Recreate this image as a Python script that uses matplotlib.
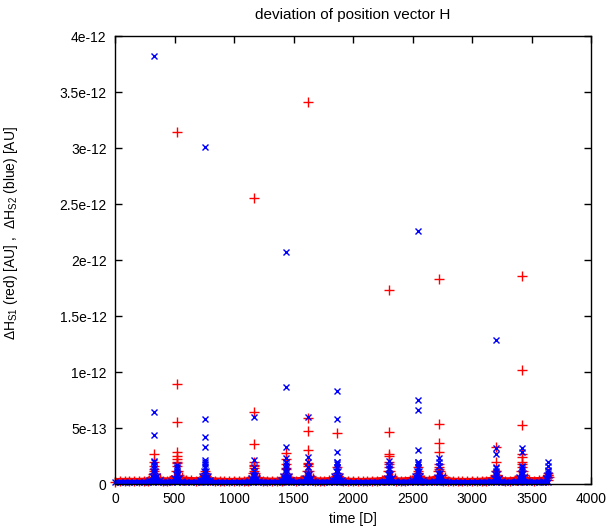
#!/usr/bin/env python
""" deviation of position vector H: gnuplot-style scatter of dH_S1 / dH_S2 """

import numpy as np                  # Maths library
import matplotlib
matplotlib.use('Agg')
import matplotlib.pyplot as plt     # Plotting library

## Data (values in units of 1e-12 AU)
scale = 1e-12

# baseline samples, one every 40 days
base_t = np.arange(0, 3660, 40)
red_base = [0.022, 0.024, 0.024, 0.025, 0.024, 0.024, 0.026, 0.028, 0.034, 0.038,
            0.030, 0.028, 0.034, 0.042, 0.038, 0.034, 0.032, 0.030, 0.034, 0.038,
            0.032, 0.028, 0.026, 0.024, 0.024, 0.024, 0.025, 0.026, 0.029, 0.038,
            0.034, 0.030, 0.028, 0.026, 0.026, 0.029, 0.038, 0.034, 0.030, 0.032,
            0.042, 0.036, 0.030, 0.028, 0.028, 0.032, 0.038, 0.034, 0.029, 0.026,
            0.024, 0.024, 0.024, 0.025, 0.026, 0.028, 0.032, 0.038, 0.034, 0.030,
            0.028, 0.030, 0.034, 0.039, 0.034, 0.032, 0.034, 0.040, 0.036, 0.030,
            0.028, 0.026, 0.024, 0.024, 0.024, 0.024, 0.024, 0.026, 0.028, 0.034,
            0.039, 0.032, 0.029, 0.030, 0.034, 0.040, 0.036, 0.032, 0.030, 0.032,
            0.034, 0.038]
blue_base = [0.014, 0.014, 0.015, 0.014, 0.014, 0.015, 0.016, 0.017, 0.020, 0.018,
             0.016, 0.016, 0.018, 0.020, 0.018, 0.016, 0.016, 0.017, 0.020, 0.019,
             0.017, 0.016, 0.015, 0.014, 0.014, 0.014, 0.015, 0.016, 0.017, 0.020,
             0.018, 0.016, 0.016, 0.016, 0.017, 0.018, 0.020, 0.018, 0.017, 0.018,
             0.020, 0.018, 0.016, 0.016, 0.017, 0.018, 0.020, 0.018, 0.016, 0.015,
             0.014, 0.014, 0.014, 0.015, 0.016, 0.016, 0.018, 0.020, 0.018, 0.016,
             0.016, 0.017, 0.018, 0.020, 0.018, 0.017, 0.018, 0.020, 0.018, 0.016,
             0.016, 0.015, 0.014, 0.014, 0.014, 0.014, 0.015, 0.016, 0.017, 0.018,
             0.020, 0.018, 0.016, 0.017, 0.018, 0.020, 0.018, 0.017, 0.016, 0.017,
             0.018, 0.020]

# times of the close-approach spikes
spike_t = [330, 518, 756, 1168, 1437, 1622, 1866, 2305, 2543, 2726, 3205, 3418, 3640]

# isolated points stacked above each spike
red_stack = [[0.265, 0.20, 0.16, 0.12],
             [3.14, 0.89, 0.556, 0.29, 0.25, 0.22, 0.19, 0.16],
             [0.12, 0.08],
             [2.55, 0.645, 0.357, 0.20, 0.17, 0.14, 0.12],
             [0.28, 0.22, 0.18, 0.14],
             [3.41, 0.585, 0.47, 0.30, 0.19, 0.16],
             [0.455, 0.15],
             [1.73, 0.46, 0.27, 0.25, 0.20, 0.15],
             [0.15, 0.12],
             [1.83, 0.535, 0.363, 0.29, 0.15, 0.13],
             [0.33, 0.20, 0.12],
             [1.86, 1.02, 0.527, 0.265, 0.245, 0.20, 0.15],
             [0.10, 0.08]]
blue_stack = [[3.82, 0.64, 0.44, 0.205, 0.17, 0.14],
              [0.17, 0.14, 0.12],
              [3.01, 0.58, 0.42, 0.33, 0.21, 0.18, 0.15],
              [0.60, 0.21, 0.15, 0.12],
              [2.07, 0.866, 0.33, 0.23, 0.20, 0.17, 0.14],
              [0.60, 0.24, 0.20, 0.15],
              [0.83, 0.58, 0.29, 0.20, 0.18, 0.15],
              [0.205, 0.17, 0.13],
              [2.26, 0.75, 0.66, 0.30, 0.20, 0.18, 0.15],
              [0.235, 0.20, 0.16],
              [1.29, 0.325, 0.265, 0.155, 0.12],
              [0.325, 0.29, 0.16, 0.13],
              [0.20, 0.16, 0.125, 0.10]]

# dense cluster around each spike: offsets (days) and upper envelope
env_dt = [-45, -22, -9, 0, 9, 22, 45]
red_env = [[0.04, 0.06, 0.09, 0.13, 0.09, 0.06, 0.05],
           [0.04, 0.07, 0.12, 0.20, 0.12, 0.08, 0.06],
           [0.04, 0.05, 0.07, 0.10, 0.07, 0.05, 0.04],
           [0.04, 0.06, 0.10, 0.16, 0.10, 0.06, 0.05],
           [0.04, 0.06, 0.09, 0.13, 0.09, 0.06, 0.04],
           [0.04, 0.07, 0.12, 0.18, 0.12, 0.07, 0.05],
           [0.04, 0.05, 0.07, 0.10, 0.07, 0.05, 0.04],
           [0.04, 0.07, 0.12, 0.18, 0.12, 0.07, 0.05],
           [0.04, 0.05, 0.07, 0.10, 0.07, 0.05, 0.04],
           [0.04, 0.07, 0.12, 0.18, 0.12, 0.08, 0.06],
           [0.04, 0.05, 0.08, 0.12, 0.08, 0.05, 0.04],
           [0.04, 0.07, 0.12, 0.18, 0.12, 0.08, 0.05],
           [0.04, 0.05, 0.06, 0.08, 0.06, np.nan, np.nan]]
blue_env = [[0.04, 0.07, 0.12, 0.20, 0.12, 0.07, 0.04],
            [0.03, 0.05, 0.09, 0.15, 0.09, 0.05, 0.03],
            [0.04, 0.07, 0.12, 0.20, 0.12, 0.07, 0.04],
            [0.03, 0.05, 0.08, 0.12, 0.08, 0.05, 0.03],
            [0.04, 0.07, 0.12, 0.20, 0.12, 0.07, 0.04],
            [0.03, 0.05, 0.09, 0.15, 0.09, 0.05, 0.03],
            [0.04, 0.07, 0.12, 0.20, 0.12, 0.07, 0.04],
            [0.03, 0.05, 0.09, 0.14, 0.09, 0.05, 0.03],
            [0.04, 0.07, 0.12, 0.20, 0.12, 0.07, 0.04],
            [0.03, 0.06, 0.10, 0.16, 0.10, 0.06, 0.03],
            [0.03, 0.05, 0.09, 0.14, 0.09, 0.05, 0.03],
            [0.03, 0.06, 0.10, 0.15, 0.10, 0.06, 0.03],
            [0.03, 0.05, 0.08, 0.12, 0.08, np.nan, np.nan]]

x_ticks = [0, 500, 1000, 1500, 2000, 2500, 3000, 3500, 4000]
y_ticks = [0, 0.5, 1.0, 1.5, 2.0, 2.5, 3.0, 3.5, 4.0]
y_tick_labels = ['0', '5e-13', '1e-12', '1.5e-12', '2e-12', '2.5e-12', '3e-12', '3.5e-12', '4e-12']

## Style
plt.rcParams['font.family'] = ['Liberation Sans', 'DejaVu Sans']
plt.rcParams['mathtext.default'] = 'regular'
RED = '#ff0000'
BLUE = '#0000ff'

fig = plt.figure(figsize=(6.10, 5.29), dpi=100)
ax = fig.add_axes([115/610, 45/529, 476/610, 448/529])

def draw_series(ax, base, stack, env, color, marker, ms, band_lw, z):
    """ baseline band, cluster cores and stacked outliers of one series """
    # dense daily points merge into a solid band in the original
    ax.plot(base_t, np.array(base)*scale, ls='-', lw=band_lw, color=color,
            solid_capstyle='butt', zorder=z, clip_on=False)
    pts_t, pts_v = list(base_t), list(base)
    for t0, st, ev in zip(spike_t, stack, env):
        et = np.array(env_dt) + t0
        ev = np.array(ev)
        ok = ~np.isnan(ev)
        ax.fill_between(et[ok], 0, ev[ok]*scale, color=color, lw=0, zorder=z)
        pts_t += list(et[ok]); pts_v += list(ev[ok])
        pts_t += [t0]*len(st); pts_v += st
    ax.plot(pts_t, np.array(pts_v)*scale, ls='none', marker=marker, ms=ms,
            mew=1.0, color=color, zorder=z+0.5, clip_on=False)

# red (S1) first, blue (S2) on top, as in the gnuplot original
draw_series(ax, red_base, red_stack, red_env, RED, '+', 7, 5, 2)
draw_series(ax, blue_base, blue_stack, blue_env, BLUE, 'x', 5, 3.5, 3)

## Format plot
ax.set_xlim(0, 4000)
ax.set_ylim(0, 4e-12)
ax.set_xticks(x_ticks)
ax.set_xticklabels([str(v) for v in x_ticks])
ax.set_yticks(np.array(y_ticks)*scale)
ax.set_yticklabels(y_tick_labels)
ax.tick_params(direction='in', length=5, width=1, top=True, right=True,
               labelsize=10, pad=6, colors='black')
for sp in ax.spines.values():
    sp.set_linewidth(1.0)
    sp.set_zorder(5)

ax.set_title('deviation of position vector H', fontsize=11, pad=12)
ax.set_xlabel('time [D]', fontsize=10, labelpad=4)
ax.set_ylabel(r'$\Delta$H$_{S1}$ (red) [AU] ,  $\Delta$H$_{S2}$ (blue) [AU]', fontsize=10)
ax.yaxis.set_label_coords(-0.2, 0.56)

fig.savefig('out.png', dpi=100)
